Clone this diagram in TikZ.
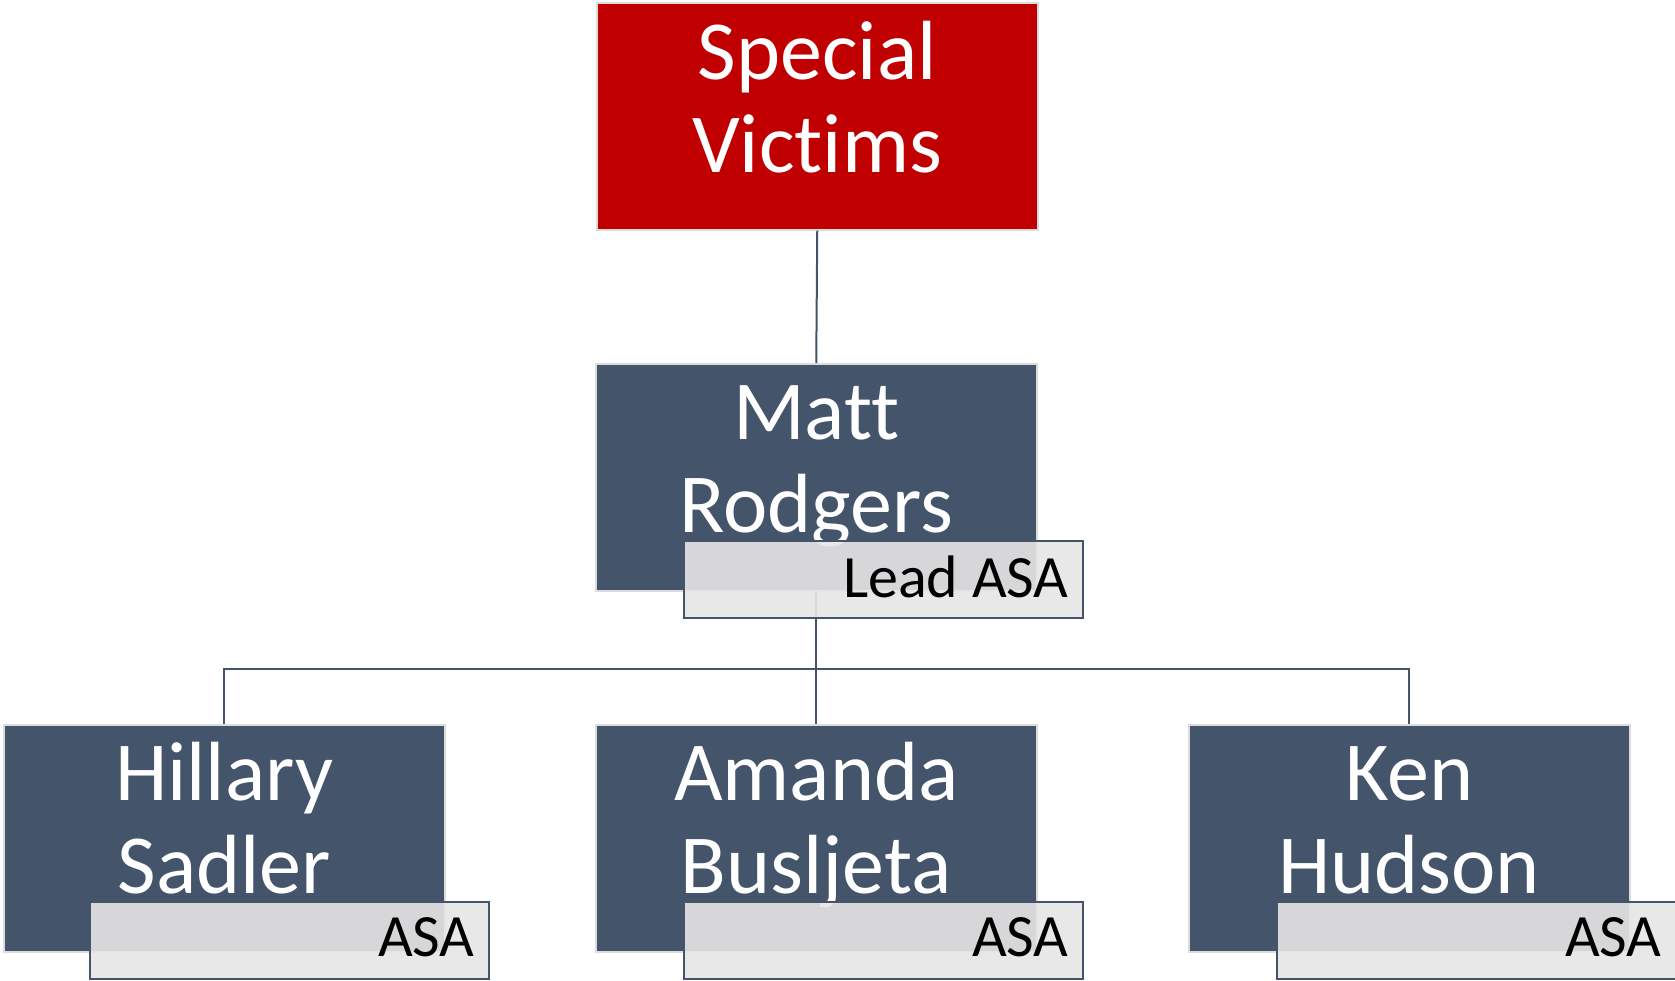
\documentclass[tikz,border=0pt]{standalone}
\usepackage{fontspec}
\setmainfont[Ligatures={NoCommon}]{Carlito}
\definecolor{unitred}{HTML}{C00000}
\definecolor{slate}{HTML}{44546A}
\definecolor{rim}{HTML}{DCDCDC}
\definecolor{rolefill}{HTML}{E7E6E6}
\tikzset{
  unitbox/.style={rectangle, draw=rim, line width=1.5pt, fill=slate,
    minimum width=441pt, minimum height=227pt, inner sep=0pt, anchor=north west},
  unitname/.style={text=white, font=\fontsize{84}{93}\selectfont, align=center,
    anchor=base, inner sep=0pt},
  rolebox/.style={rectangle, draw=slate, line width=1.8pt, fill=rolefill,
    fill opacity=0.9, minimum width=399pt, minimum height=77pt, inner sep=0pt,
    anchor=north west},
  roletext/.style={text=black, font=\fontsize{60}{62}\selectfont,
    anchor=base east, inner sep=0pt},
  link/.style={draw=slate, line width=2pt}
}
\begin{document}
\begin{tikzpicture}[x=1pt, y=-1pt]
  \useasboundingbox (0,0) rectangle (1675,980);

  % unit boxes
  \node[unitbox, fill=unitred] (sv) at (596,2) {};
  \node[unitbox] (mr) at (595,363) {};
  \node[unitbox] (hs) at (3,724) {};
  \node[unitbox] (ab) at (595,724) {};
  \node[unitbox] (kh) at (1188,724) {};

  % reporting lines
  \draw[link] (sv.south) -- (mr.north);
  \draw[link] (mr.south) -- (ab.north);
  \draw[link] (hs.north) -- ++(0,-55) -| (kh.north);

  % unit names (base anchor sits on the last line)
  \node[unitname] (svt) at ([yshift=-170pt]sv.north) {Special\\Victims};
  \node[unitname] (mrt) at ([yshift=-169pt]mr.north) {Matt\\Rodgers};
  \node[unitname] (hst) at ([yshift=-169pt]hs.north) {Hillary\\Sadler};
  \node[unitname] (abt) at ([yshift=-169pt]ab.north) {Amanda\\Busljeta};
  \node[unitname] (kht) at ([yshift=-169pt]kh.north) {Ken\\Hudson};

  % role tags
  \node[rolebox] (mrr) at (683,540) {};
  \node[rolebox] (hsr) at (89,901) {};
  \node[rolebox] (abr) at (683,901) {};
  \node[rolebox] (khr) at (1276,901) {};

  \node[roletext] (mrrt) at ([xshift=-15pt,yshift=21pt]mrr.south east) {Lead ASA};
  \node[roletext] (hsrt) at ([xshift=-15pt,yshift=23pt]hsr.south east) {ASA};
  \node[roletext] (abrt) at ([xshift=-15pt,yshift=23pt]abr.south east) {ASA};
  \node[roletext] (khrt) at ([xshift=-15pt,yshift=23pt]khr.south east) {ASA};
\end{tikzpicture}
\end{document}
